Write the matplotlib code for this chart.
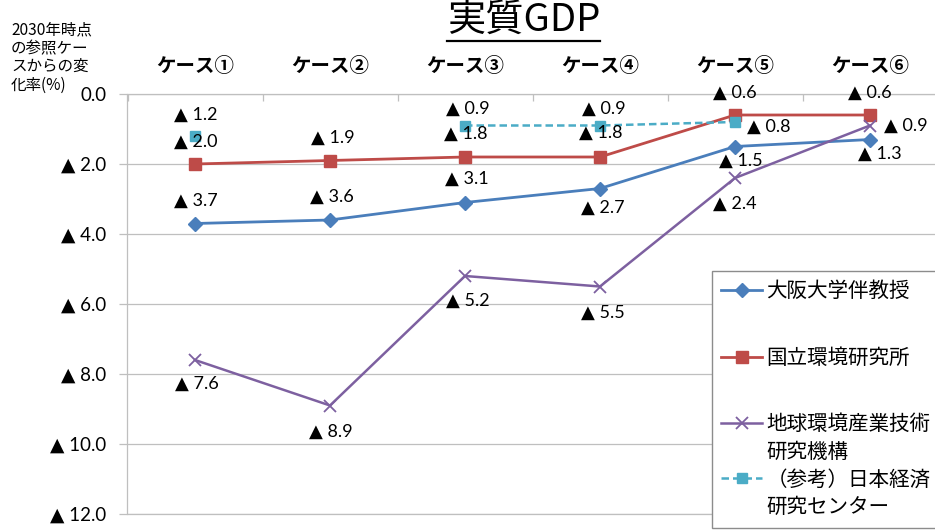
import matplotlib
matplotlib.use('Agg')
import matplotlib.pyplot as plt
import numpy as np
from matplotlib.lines import Line2D
from matplotlib.offsetbox import VPacker
from matplotlib.font_manager import FontProperties

# ---------------- data ----------------
cases = ['ケース①', 'ケース②', 'ケース③', 'ケース④', 'ケース⑤', 'ケース⑥']
osaka = [3.7, 3.6, 3.1, 2.7, 1.5, 1.3]          # 大阪大学伴教授
nies = [2.0, 1.9, 1.8, 1.8, 0.6, 0.6]           # 国立環境研究所
rite = [7.6, 8.9, 5.2, 5.5, 2.4, 0.9]           # 地球環境産業技術研究機構
jcer = [1.2, np.nan, 0.9, 0.9, 0.8, np.nan]     # （参考）日本経済研究センター
series_names = ['大阪大学伴教授', '国立環境研究所',
                '地球環境産業技術\n研究機構', '（参考）日本経済\n研究センター']
yticks = [0, 2, 4, 6, 8, 10, 12]
ytick_labels = ['0.0', '▲ 2.0', '▲ 4.0', '▲ 6.0', '▲ 8.0', '▲ 10.0', '▲ 12.0']
title = '実質GDP'
ylabel_lines = ['2030年時点', 'の参照ケー', 'スからの変', '化率(%)']

# ---------------- styles ----------------
CJK = ['Noto Sans CJK JP', 'DejaVu Sans']
NUM = ['Lato', 'DejaVu Sans']
plt.rcParams['font.family'] = NUM

styles = [
    dict(color='#4A7EBB', lw=2.0, marker='D', ms=7, ls='-'),
    dict(color='#BE4B48', lw=2.0, marker='s', ms=8.5, ls='-'),
    dict(color='#7D60A0', lw=1.8, marker='x', ms=8, mew=1.3, ls='-'),
    dict(color='#4BACC6', lw=1.8, marker='s', ms=7.5, ls=(0, (3, 1.6))),
]
# label offsets in pixels (dx, dy downward)
label_offsets = [
    [(1, -23), (2, -23), (2, -24), (3, 19), (6, 14), (10, 14)],
    [(1, -22), (3, -23), (1, -23), (1, -24), (0, -22), (0, -22)],
    [(2, 24), (1, 26), (3, 25), (3, 26), (0, 26), (36, 0)],
    [(1, -21), None, (3, -17), (4, -17), (34, 5), None],
]
GRID = '#BFBFBF'

W, H = 935, 530
fig = plt.figure(figsize=(W / 100, H / 100), dpi=100)
ax = fig.add_axes([127.5 / W, 1 - 514 / H, 810 / W, 420 / H])

x = np.arange(len(cases))
handles = []
for vals, st, offs in zip([osaka, nies, rite, jcer], styles, label_offsets):
    (h,) = ax.plot(x, vals, color=st['color'], lw=st['lw'], ls=st['ls'],
                   marker=st['marker'], ms=st['ms'],
                   mew=st.get('mew', 1.0), mec=st['color'], mfc=st['color'],
                   clip_on=False, zorder=3)
    handles.append(h)
    for xi, v, off in zip(x, vals, offs):
        if off is None or np.isnan(v):
            continue
        ax.annotate(f'▲ {v:.1f}', xy=(xi, v), xytext=(off[0], -off[1]),
                    textcoords='offset pixels', ha='center', va='center',
                    fontsize=13, family=NUM, color='black', zorder=5)

ax.set_xlim(-0.5, len(cases) - 0.5)
ax.set_ylim(12, 0)
ax.set_yticks(yticks)
ax.set_yticklabels(ytick_labels, fontsize=13.5, family=NUM)
ax.yaxis.grid(True, color=GRID, lw=0.9)
ax.set_axisbelow(True)
ax.tick_params(axis='y', direction='out', length=5.5, width=0.9, color=GRID,
               pad=9.5, labelcolor='black')

ax.xaxis.tick_top()
ax.set_xticks(x)
ax.set_xticklabels(cases, fontsize=14, family=CJK, fontweight='bold')
ax.set_xticks(np.arange(len(cases) + 1) - 0.5, minor=True)
ax.tick_params(axis='x', which='major', length=0, pad=13, top=True, bottom=False)
ax.tick_params(axis='x', which='minor', direction='in', length=5, width=0.9,
               color=GRID, top=True, bottom=False)

for s in ['left', 'top', 'bottom']:
    ax.spines[s].set_color(GRID)
    ax.spines[s].set_linewidth(0.9)
ax.spines['right'].set_visible(False)

# title
t = fig.text(523.5 / W, 1 - 20 / H, title, ha='center', va='center',
             fontsize=27.5, family=CJK)
# y-axis caption (one text per line, stacked at the top-left)
for i, line in enumerate(ylabel_lines):
    fig.text(11 / W, 1 - (30 + 18.4 * i) / H, line, ha='left', va='center',
             fontsize=11.2, family=CJK)

# legend (second lines of long names as blank-handle rows)
leg_handles, leg_labels = [], []
for h, name in zip(handles, series_names):
    parts = name.split('\n')
    leg_handles.append(h)
    leg_labels.append(parts[0])
    for p in parts[1:]:
        leg_handles.append(Line2D([], [], color='none'))
        leg_labels.append(p)
leg = fig.legend(leg_handles, leg_labels, loc='upper left',
                 bbox_to_anchor=(712 / W, 1 - 271 / H), bbox_transform=fig.transFigure,
                 frameon=True, fancybox=False, edgecolor='#8C8C8C', framealpha=1,
                 prop=FontProperties(family=CJK, size=14.8),
                 handlelength=2.0, handletextpad=0.2, borderpad=0.45,
                 borderaxespad=0, labelspacing=0.28)
leg.get_frame().set_linewidth(1.0)
# group spacing: first two entries widely spaced, the rest tight
col = leg._legend_handle_box.get_children()[0]
items = col.get_children()
inner = VPacker(pad=0, sep=col.sep, align='baseline', children=items[2:])
col._children = [items[0], items[1], inner]
col.sep = 32

fig.canvas.draw()
bb = t.get_window_extent()
fig.add_artist(Line2D([bb.x0 / W, bb.x1 / W], [(bb.y0 - 1) / H] * 2,
                      transform=fig.transFigure, color='black', lw=1.6))

fig.savefig('out.png', dpi=100)
